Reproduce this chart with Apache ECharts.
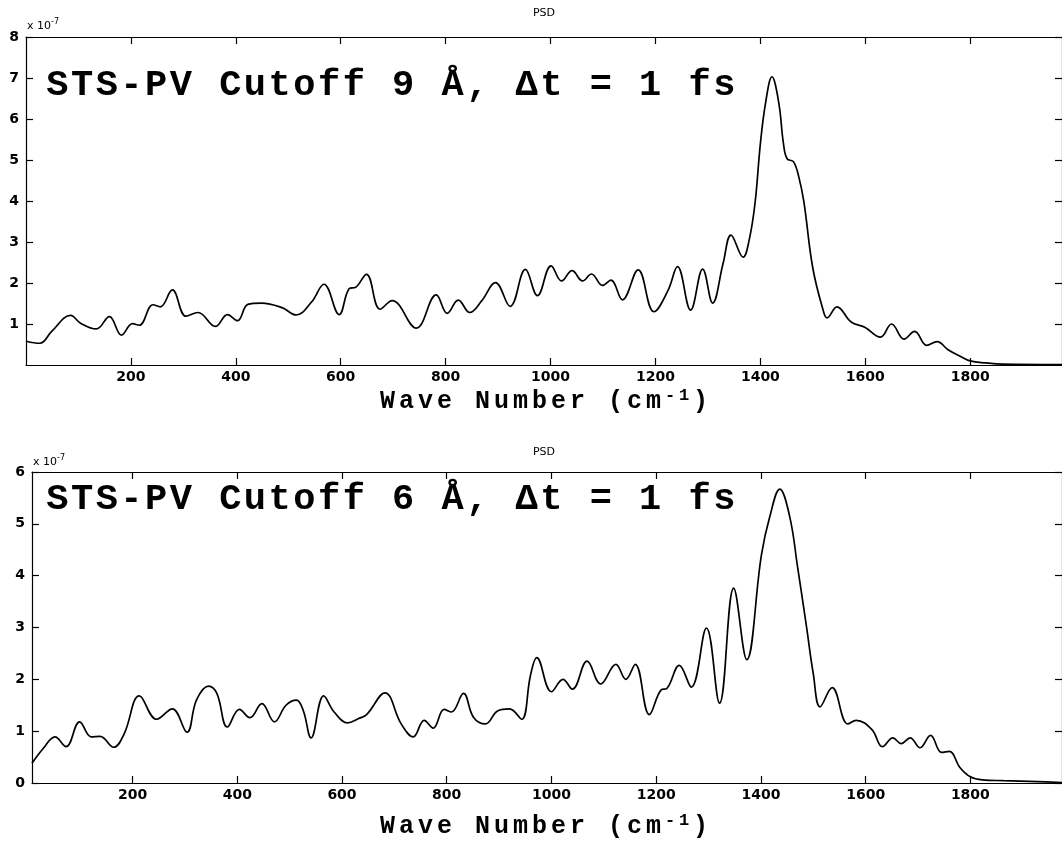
<!DOCTYPE html>
<html><head><meta charset="utf-8">
<script src="https://cdn.jsdelivr.net/npm/echarts@6/dist/echarts.min.js"></script>
<style>html,body{margin:0;padding:0;background:#fff}#c{width:1062px;height:844px}</style>
</head><body><div id="c"></div>
<script>
// ---- data (PSD in units of 1e-7) ----
const wave9 = [0,26,49,85,104,134,159,182,203,216,242,256,279,305,328,361,384,403,423,449,488,515,544,568,597,616,629,649,675,698,744,782,803,824,846,869,895,923,952,975,1001,1021,1041,1061,1078,1099,1115,1137,1167,1197,1224,1242,1267,1290,1309,1329,1344,1367,1379,1390,1400,1410,1422,1435,1444,1451,1463,1473,1483,1500,1520,1527,1546,1573,1599,1629,1650,1674,1694,1717,1737,1757,1780,1800,1830,1862,1975];
const psd9 = [0.58,0.53,0.82,1.21,1.02,0.88,1.18,0.73,1.01,0.97,1.47,1.42,1.83,1.19,1.28,0.94,1.23,1.08,1.48,1.51,1.40,1.22,1.53,1.97,1.23,1.86,1.90,2.21,1.36,1.57,0.90,1.71,1.26,1.58,1.28,1.57,2.01,1.43,2.33,1.69,2.42,2.05,2.30,2.05,2.22,1.94,2.07,1.59,2.32,1.30,1.82,2.40,1.34,2.34,1.51,2.48,3.17,2.63,3.07,3.97,5.4,6.4,7.03,6.4,5.4,5.03,4.96,4.6,3.97,2.36,1.32,1.15,1.42,1.05,0.92,0.68,1.00,0.63,0.82,0.48,0.57,0.38,0.22,0.10,0.05,0.02,0.01];
const wave6 = [8,29,52,73,99,121,138,164,184,213,246,276,304,322,345,361,381,404,424,447,471,493,513,526,541,565,585,611,631,647,682,713,736,757,774,795,809,832,851,874,897,920,943,960,972,1000,1022,1040,1068,1094,1123,1142,1160,1187,1210,1220,1244,1267,1296,1321,1348,1373,1401,1417,1436,1455,1470,1487,1500,1513,1536,1566,1582,1612,1632,1652,1668,1685,1704,1724,1745,1760,1780,1800,1823,1863,1929,1975];
const psd6 = [0.38,0.66,0.89,0.70,1.18,0.89,0.90,0.69,0.95,1.68,1.23,1.43,0.98,1.60,1.87,1.73,1.08,1.42,1.26,1.53,1.18,1.50,1.60,1.40,0.87,1.68,1.37,1.16,1.24,1.32,1.74,1.14,0.89,1.21,1.06,1.42,1.37,1.73,1.27,1.14,1.39,1.43,1.23,2.08,2.42,1.76,2.00,1.81,2.35,1.91,2.29,2.00,2.29,1.32,1.80,1.82,2.27,1.85,2.99,1.54,3.76,2.38,4.40,5.14,5.67,5.14,4.17,3.02,2.11,1.47,1.84,1.14,1.21,1.03,0.70,0.87,0.76,0.87,0.68,0.92,0.59,0.61,0.30,0.12,0.06,0.045,0.025,0.01];
const xTicks = [200, 400, 600, 800, 1000, 1200, 1400, 1600, 1800];
const xRange9 = [0, 1975];
const xRange6 = [8, 1975];
const yTicks9 = [1, 2, 3, 4, 5, 6, 7, 8];
const yTicks6 = [0, 1, 2, 3, 4, 5, 6];
const titleText = 'PSD';
const axisTitle = 'Wave Number (cm';
const axisSup = '-1';
const expBase = 'x 10', expSup = '-7';
const label9 = 'STS-PV Cutoff 9 Å, Δt = 1 fs';
const label6 = 'STS-PV Cutoff 6 Å, Δt = 1 fs';

const chart = echarts.init(document.getElementById('c'), null, {renderer: 'canvas'});
const sans = 'DejaVu Sans, Liberation Sans, Arial, sans-serif';
const mono = 'Liberation Mono, Courier New, monospace';

const grids = [
  {left: 26, right: 0, top: 37, height: 328},
  {left: 32, right: 0, top: 472, height: 311}
];
const lineCol = {color: '#000', width: 1.2};
function xAxes(gi, range) {
  const base = {gridIndex: gi, type: 'value', min: range[0], max: range[1],
    axisLine: {show: true, onZero: false, lineStyle: lineCol},
    axisTick: {show: true, inside: true, length: 7, customValues: xTicks, lineStyle: lineCol},
    splitLine: {show: false}};
  return [
    Object.assign({}, base, {position: 'bottom',
      axisLabel: {show: true, customValues: xTicks, color: '#000', fontFamily: sans, fontWeight: 'bold', fontSize: 14, margin: 5,
        formatter: v => String(v)}}),
    Object.assign({}, base, {position: 'top', axisLabel: {show: false}})
  ];
}
function yAxes(gi, ticks) {
  const base = {gridIndex: gi, type: 'value', min: 0, max: ticks[ticks.length - 1],
    axisLine: {show: true, onZero: false, lineStyle: lineCol},
    axisTick: {show: true, inside: true, length: 7, customValues: ticks, lineStyle: lineCol},
    splitLine: {show: false}};
  return [
    Object.assign({}, base, {position: 'left',
      axisLabel: {show: true, customValues: ticks, color: '#000', fontFamily: sans, fontWeight: 'bold', fontSize: 14, margin: 7,
        formatter: v => String(v)}}),
    Object.assign({}, base, {position: 'right', axisLabel: {show: false}})
  ];
}
const pairs = (xs, ys) => xs.map((x, i) => [x, ys[i]]);
const cells = (str, key) => str.split('').map(ch => '{' + key + '|' + ch + '}').join('');

const annRich = {c: {fontFamily: mono, fontWeight: 'bold', fontSize: 37, lineHeight: 40, width: 24.7, align: 'center', fill: '#000'}};
const xlabRich = {
  m: {fontFamily: mono, fontWeight: 'bold', fontSize: 25, lineHeight: 28, width: 19, align: 'center', fill: '#000'},
  s: {fontFamily: mono, fontWeight: 'bold', fontSize: 17, lineHeight: 28, width: 14, align: 'center', fill: '#000', padding: [0, 0, 12, 0]}
};
const expRich = {
  a: {fontFamily: sans, fontSize: 11, fill: '#000'},
  b: {fontFamily: sans, fontSize: 8, fill: '#000', padding: [0, 0, 8, 0]}
};
function texts(gx, titleY, expY, annY, xlabY, label) {
  return [
    {type: 'text', x: 544, y: titleY, style: {text: titleText, font: '11px ' + sans, fill: '#000', align: 'center', verticalAlign: 'middle'}},
    {type: 'text', x: gx + 1, y: expY, style: {text: '{a|' + expBase + '}{b|' + expSup + '}', rich: expRich, verticalAlign: 'middle'}},
    {type: 'text', x: 45, y: annY, style: {text: cells(label, 'c'), rich: annRich, verticalAlign: 'middle'}},
    {type: 'text', x: 544, y: xlabY, style: {text: cells(axisTitle, 'm') + cells(axisSup, 's') + cells(')', 'm'), rich: xlabRich, align: 'center', verticalAlign: 'middle'}}
  ];
}

chart.setOption({
  animation: false,
  backgroundColor: '#fff',
  grid: grids,
  xAxis: [...xAxes(0, xRange9), ...xAxes(1, xRange6)],
  yAxis: [...yAxes(0, yTicks9), ...yAxes(1, yTicks6)],
  series: [
    {type: 'line', xAxisIndex: 0, yAxisIndex: 0, data: pairs(wave9, psd9), smooth: 0.4, showSymbol: false,
      lineStyle: {color: '#000', width: 1.7}},
    {type: 'line', xAxisIndex: 2, yAxisIndex: 2, data: pairs(wave6, psd6), smooth: 0.4, showSymbol: false,
      lineStyle: {color: '#000', width: 1.7}}
  ],
  graphic: [...texts(26, 13, 26, 86, 402, label9), ...texts(32, 452, 462, 500, 827, label6)]
});
</script>
</body></html>
